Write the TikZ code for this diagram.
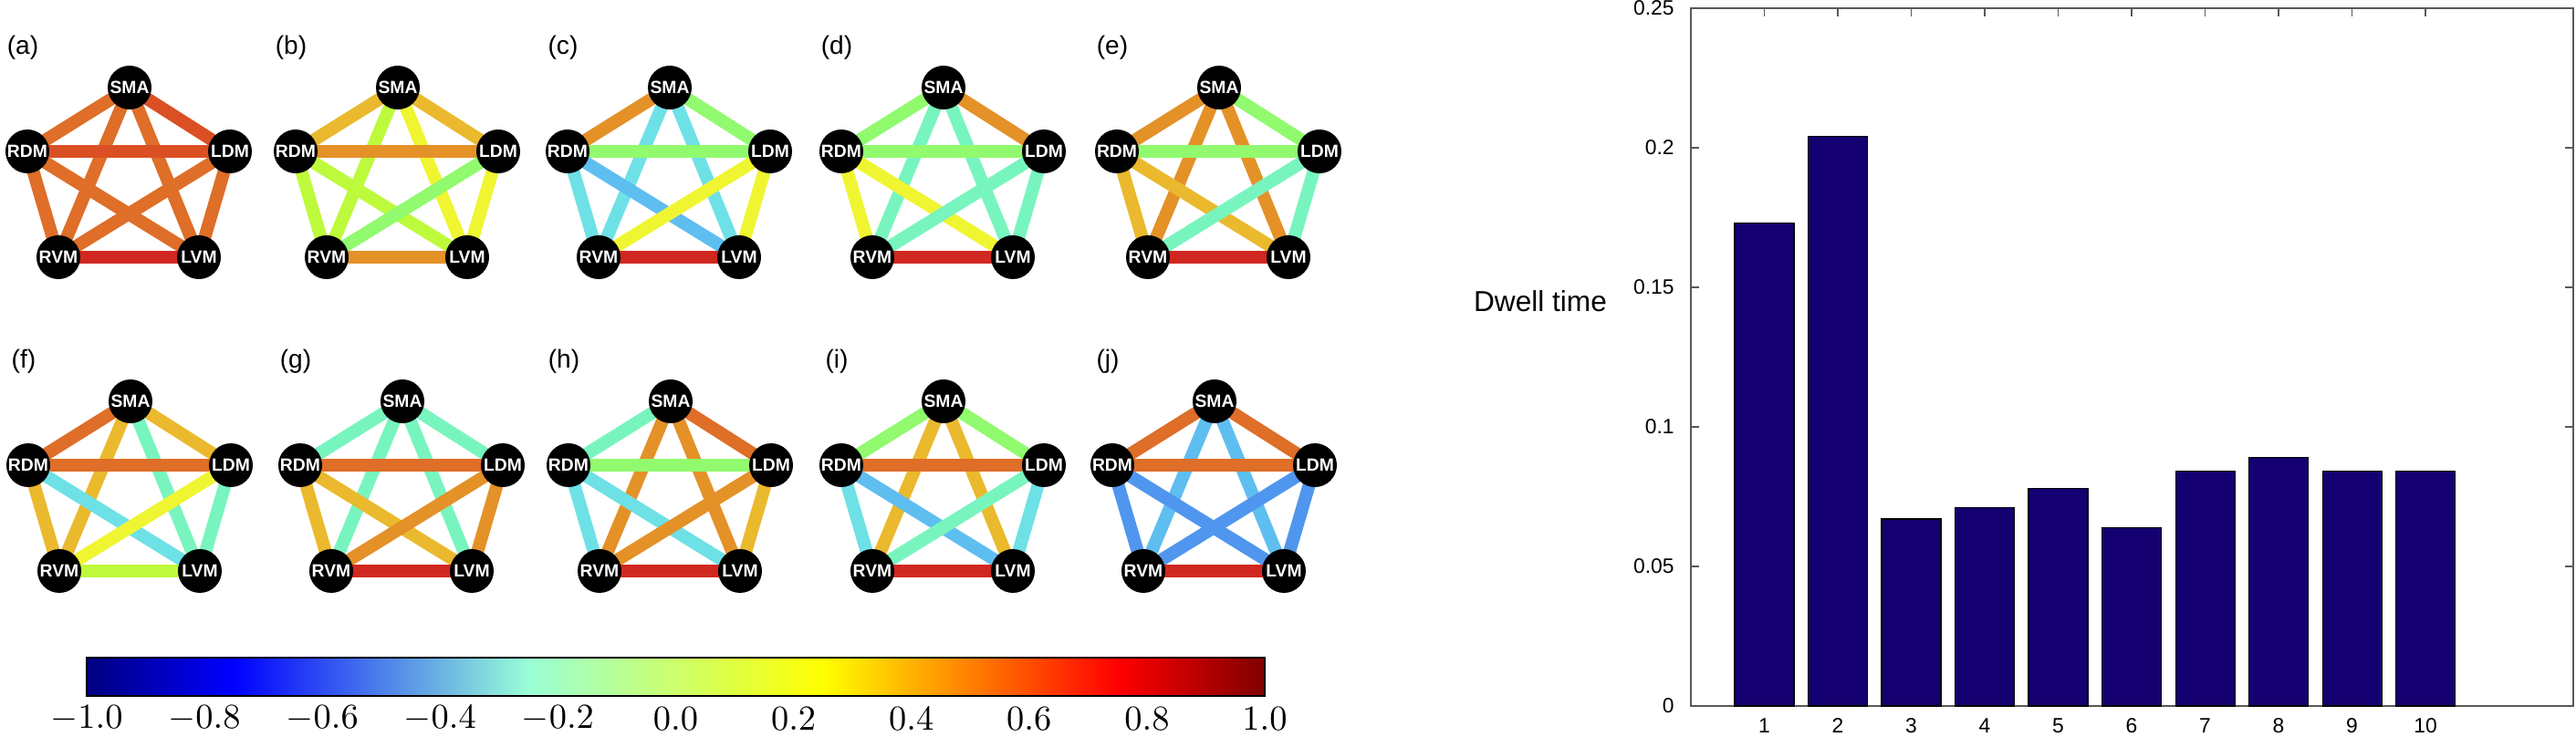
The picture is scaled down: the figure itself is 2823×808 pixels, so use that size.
\documentclass[tikz,border=0pt]{standalone}
\usepackage{fontspec}
\setmainfont{Liberation Sans}
\usetikzlibrary{backgrounds}

\definecolor{cR}{RGB}{208,40,32}
\definecolor{cOR}{RGB}{218,80,36}
\definecolor{cO}{RGB}{222,110,40}
\definecolor{cA}{RGB}{228,145,40}
\definecolor{cG}{RGB}{234,185,45}
\definecolor{cY}{RGB}{240,245,50}
\definecolor{cL}{RGB}{190,250,60}
\definecolor{cLG}{RGB}{145,250,110}
\definecolor{cM}{RGB}{120,245,190}
\definecolor{cC}{RGB}{110,225,230}
\definecolor{cS}{RGB}{95,190,240}
\definecolor{cB}{RGB}{80,150,238}
\definecolor{barblue}{RGB}{20,0,112}

% jet colour map, stops between 25bp and 75bp
\pgfdeclarehorizontalshading{jet}{100bp}{color(0bp)=(black!50!blue);
  color(25bp)=(black!50!blue); color(31.25bp)=(blue); color(43.75bp)=(cyan!60!green!40!white);
  color(56.25bp)=(yellow); color(68.75bp)=(red); color(75bp)=(red!50!black); color(100bp)=(red!50!black)}

\tikzset{
  roi/.style={circle, fill=black, inner sep=0pt, minimum size=4.8mm,
    text=white, font=\fontsize{5.5}{6}\selectfont\bfseries},
  link/.style={line width=1.4mm},
  panel/.style={font=\fontsize{8}{9}\selectfont},
  tick/.style={font=\fontsize{6.5}{7}\selectfont}
}

\begin{document}
\begin{tikzpicture}[x=0.1mm, y=-0.1mm]
    \useasboundingbox (0,0) rectangle (2823,808);

    % connectivity states
    \foreach \lab/\px/\py/\ea/\eb/\ec/\ed/\ee/\ef/\eg/\eh/\ei/\ej in {
        a/142/96/cO/cOR/cO/cO/cOR/cO/cO/cO/cO/cR,
        b/436/96/cG/cG/cL/cY/cA/cL/cL/cLG/cY/cA,
        c/734/96/cA/cLG/cC/cC/cLG/cC/cS/cY/cY/cR,
        d/1034/96/cLG/cA/cM/cM/cLG/cY/cY/cM/cM/cR,
        e/1336/96/cA/cLG/cA/cA/cLG/cG/cG/cM/cM/cR,
        f/143/440/cO/cG/cG/cM/cO/cG/cC/cY/cM/cL,
        g/441/440/cM/cM/cM/cM/cO/cG/cG/cA/cA/cR,
        h/735/440/cM/cO/cA/cA/cLG/cC/cC/cA/cG/cR,
        i/1034/440/cLG/cLG/cG/cG/cO/cC/cS/cM/cC/cR,
        j/1331/440/cO/cO/cS/cS/cO/cB/cB/cB/cB/cR} {
        \node[panel] (p\lab) at (\px-117,\py-44) {(\lab)};
        \node[roi] (SMA\lab) at (\px,\py) {SMA};
        \node[roi] (RDM\lab) at (\px-112,\py+70) {RDM};
        \node[roi] (LDM\lab) at (\px+110,\py+70) {LDM};
        \node[roi] (RVM\lab) at (\px-78,\py+186) {RVM};
        \node[roi] (LVM\lab) at (\px+76,\py+186) {LVM};
        \begin{scope}[on background layer]
            \draw[link, \ea] (SMA\lab.center) -- (RDM\lab.center);
            \draw[link, \eb] (SMA\lab.center) -- (LDM\lab.center);
            \draw[link, \ec] (SMA\lab.center) -- (RVM\lab.center);
            \draw[link, \ed] (SMA\lab.center) -- (LVM\lab.center);
            \draw[link, \ee] (RDM\lab.center) -- (LDM\lab.center);
            \draw[link, \ef] (RDM\lab.center) -- (RVM\lab.center);
            \draw[link, \eg] (RDM\lab.center) -- (LVM\lab.center);
            \draw[link, \eh] (LDM\lab.center) -- (RVM\lab.center);
            \draw[link, \ei] (LDM\lab.center) -- (LVM\lab.center);
            \draw[link, \ej] (RVM\lab.center) -- (LVM\lab.center);
        \end{scope}
    }

    % colour bar
    \shade[shading=jet, draw=black, line width=0.3pt] (95,721) rectangle (1386,763);
    \foreach \v [count=\i from 0] in {-1.0,-0.8,-0.6,-0.4,-0.2,0.0,0.2,0.4,0.6,0.8,1.0}
        \node[font=\fontsize{11}{12}\selectfont] (cb\i) at (95+129.1*\i,788) {$\v$};

    % dwell time
    \node[font=\fontsize{9}{10}\selectfont] (ylab) at (1688,330) {Dwell time};
    \draw[line width=0.4pt, gray!70!black] (1853,9) rectangle (2820,774);
    \foreach \t [count=\i from 0] in {0,0.05,0.1,0.15,0.2,0.25} {
        \draw[gray!70!black] (1853,774-153*\i) -- +(9,0);
        \draw[gray!70!black] (2820,774-153*\i) -- +(-9,0);
        \node[tick, anchor=east] (yt\i) at (1847,774-153*\i) {\t};
    }
    \foreach \h [count=\i] in {0.173,0.204,0.067,0.071,0.078,0.064,0.084,0.089,0.084,0.084} {
        \draw[gray!70!black] (1853+80.5*\i,774) -- +(0,-9);
        \draw[gray!70!black] (1853+80.5*\i,9) -- +(0,9);
        \draw[fill=barblue, draw=black, line width=0.3pt]
            (1853+80.5*\i-32.5,774) rectangle (1853+80.5*\i+32.5,774-3060*\h);
        \node[tick] (xt\i) at (1853+80.5*\i,796) {\i};
    }
\end{tikzpicture}
\end{document}
